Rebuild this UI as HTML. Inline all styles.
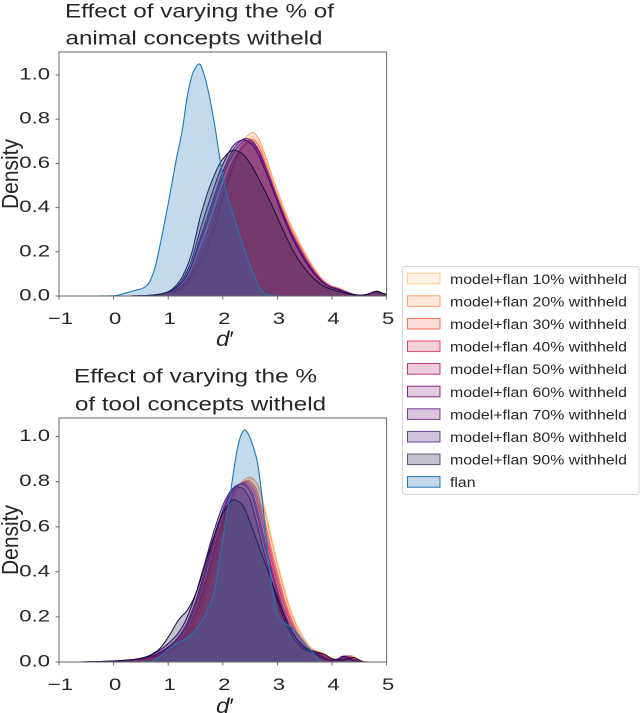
<!DOCTYPE html>
<html><head><meta charset="utf-8"><title>chart</title>
<style>html,body{margin:0;padding:0;background:#fff;overflow:hidden}svg{display:block}text{fill:#262626}</style>
</head><body>
<svg id="s" xmlns="http://www.w3.org/2000/svg" width="640" height="713" viewBox="0 0 640 713" font-family="'Liberation Sans', Arial, sans-serif">
<defs>
<clipPath id="c1"><rect x="59" y="52" width="327.6" height="244"/></clipPath>
<clipPath id="c2"><rect x="59" y="418" width="327.6" height="244"/></clipPath>
</defs>
<rect width="640" height="713" fill="#fff"/>
<g id="p1" clip-path="url(#c1)"></g>
<g id="p2" clip-path="url(#c2)"></g>

<!-- spines -->
<rect x="59" y="52" width="327.6" height="244" fill="none" stroke="#666" stroke-width="1"/>
<rect x="59" y="418" width="327.6" height="244" fill="none" stroke="#666" stroke-width="1"/>

<!-- ticks -->
<g stroke="#666" stroke-width="1">
<line x1="55.5" x2="59" y1="296" y2="296"/><line x1="55.5" x2="59" y1="251.8" y2="251.8"/><line x1="55.5" x2="59" y1="207.6" y2="207.6"/><line x1="55.5" x2="59" y1="163.4" y2="163.4"/><line x1="55.5" x2="59" y1="119.2" y2="119.2"/><line x1="55.5" x2="59" y1="75" y2="75"/>
<line x1="55.5" x2="59" y1="662" y2="662"/><line x1="55.5" x2="59" y1="616.9" y2="616.9"/><line x1="55.5" x2="59" y1="571.8" y2="571.8"/><line x1="55.5" x2="59" y1="526.8" y2="526.8"/><line x1="55.5" x2="59" y1="481.7" y2="481.7"/><line x1="55.5" x2="59" y1="436.6" y2="436.6"/>
<line x1="59" x2="59" y1="296" y2="299.5"/><line x1="113.6" x2="113.6" y1="296" y2="299.5"/><line x1="168.2" x2="168.2" y1="296" y2="299.5"/><line x1="222.8" x2="222.8" y1="296" y2="299.5"/><line x1="277.4" x2="277.4" y1="296" y2="299.5"/><line x1="332" x2="332" y1="296" y2="299.5"/><line x1="386.6" x2="386.6" y1="296" y2="299.5"/>
<line x1="59" x2="59" y1="662" y2="665.5"/><line x1="113.6" x2="113.6" y1="662" y2="665.5"/><line x1="168.2" x2="168.2" y1="662" y2="665.5"/><line x1="222.8" x2="222.8" y1="662" y2="665.5"/><line x1="277.4" x2="277.4" y1="662" y2="665.5"/><line x1="332" x2="332" y1="662" y2="665.5"/><line x1="386.6" x2="386.6" y1="662" y2="665.5"/>
</g>

<!-- y tick labels -->
<g font-size="17" text-anchor="end">
<text transform="translate(50,300.5) scale(1.3,1)">0.0</text>
<text transform="translate(50,256.3) scale(1.3,1)">0.2</text>
<text transform="translate(50,212.1) scale(1.3,1)">0.4</text>
<text transform="translate(50,167.9) scale(1.3,1)">0.6</text>
<text transform="translate(50,123.7) scale(1.3,1)">0.8</text>
<text transform="translate(50,79.5) scale(1.3,1)">1.0</text>
<text transform="translate(50,666.5) scale(1.3,1)">0.0</text>
<text transform="translate(50,621.4) scale(1.3,1)">0.2</text>
<text transform="translate(50,576.3) scale(1.3,1)">0.4</text>
<text transform="translate(50,531.3) scale(1.3,1)">0.6</text>
<text transform="translate(50,486.2) scale(1.3,1)">0.8</text>
<text transform="translate(50,441.1) scale(1.3,1)">1.0</text>
</g>
<!-- x tick labels -->
<g font-size="17" text-anchor="middle">
<text transform="translate(60.5,324) scale(1.3,1)">−1</text>
<text transform="translate(115.1,324) scale(1.3,1)">0</text>
<text transform="translate(169.7,324) scale(1.3,1)">1</text>
<text transform="translate(224.3,324) scale(1.3,1)">2</text>
<text transform="translate(278.9,324) scale(1.3,1)">3</text>
<text transform="translate(333.5,324) scale(1.3,1)">4</text>
<text transform="translate(388.1,324) scale(1.3,1)">5</text>
<text transform="translate(60.5,690) scale(1.3,1)">−1</text>
<text transform="translate(115.1,690) scale(1.3,1)">0</text>
<text transform="translate(169.7,690) scale(1.3,1)">1</text>
<text transform="translate(224.3,690) scale(1.3,1)">2</text>
<text transform="translate(278.9,690) scale(1.3,1)">3</text>
<text transform="translate(333.5,690) scale(1.3,1)">4</text>
<text transform="translate(388.1,690) scale(1.3,1)">5</text>
</g>

<!-- axis labels -->
<g font-size="21" text-anchor="middle">
<text transform="translate(18,174) scale(1.1,1) rotate(-90)">Density</text>
<text transform="translate(18,540) scale(1.1,1) rotate(-90)">Density</text>
<text transform="translate(225,346) scale(1.15,1)"><tspan font-style="italic">d</tspan>′</text>
<text transform="translate(225,713) scale(1.15,1)"><tspan font-style="italic">d</tspan>′</text>
</g>

<!-- titles -->
<g font-size="19.5">
<text x="65" y="17.5" textLength="269" lengthAdjust="spacingAndGlyphs">Effect of varying the % of</text>
<text x="65.5" y="44.5" textLength="257" lengthAdjust="spacingAndGlyphs">animal concepts witheld</text>
<text x="74" y="382.5" textLength="243" lengthAdjust="spacingAndGlyphs">Effect of varying the %</text>
<text x="75" y="410.5" textLength="251" lengthAdjust="spacingAndGlyphs">of tool concepts witheld</text>
</g>

<!-- legend -->
<rect x="402.5" y="266.5" width="236.5" height="228" rx="3" ry="3" fill="#fff" stroke="#d4d4d4" stroke-width="1"/>
<g stroke-width="1">
<rect x="407.5" y="273.2" width="32.5" height="10.6" fill="#fecf92" fill-opacity="0.25" stroke="#fecf92"/>
<rect x="407.5" y="295.8" width="32.5" height="10.6" fill="#fe9f6d" fill-opacity="0.25" stroke="#fe9f6d"/>
<rect x="407.5" y="318.4" width="32.5" height="10.6" fill="#f7705c" fill-opacity="0.25" stroke="#f7705c"/>
<rect x="407.5" y="341.0" width="32.5" height="10.6" fill="#de4968" fill-opacity="0.25" stroke="#de4968"/>
<rect x="407.5" y="363.6" width="32.5" height="10.6" fill="#b73779" fill-opacity="0.25" stroke="#b73779"/>
<rect x="407.5" y="386.2" width="32.5" height="10.6" fill="#8c2981" fill-opacity="0.25" stroke="#8c2981"/>
<rect x="407.5" y="408.8" width="32.5" height="10.6" fill="#641a80" fill-opacity="0.25" stroke="#641a80" stroke-opacity="0.85"/>
<rect x="407.5" y="431.4" width="32.5" height="10.6" fill="#3b0f70" fill-opacity="0.25" stroke="#3b0f70" stroke-opacity="0.75"/>
<rect x="407.5" y="454.0" width="32.5" height="10.6" fill="#140e36" fill-opacity="0.25" stroke="#140e36" stroke-opacity="0.65"/>
<rect x="407.5" y="476.6" width="32.5" height="10.6" fill="#1f77b4" fill-opacity="0.27" stroke="#1f77b4"/>
</g>
<g font-size="13.5">
<text x="450" y="283.8" textLength="177" lengthAdjust="spacingAndGlyphs">model+flan 10% withheld</text>
<text x="450" y="306.4" textLength="177" lengthAdjust="spacingAndGlyphs">model+flan 20% withheld</text>
<text x="450" y="329.0" textLength="177" lengthAdjust="spacingAndGlyphs">model+flan 30% withheld</text>
<text x="450" y="351.6" textLength="177" lengthAdjust="spacingAndGlyphs">model+flan 40% withheld</text>
<text x="450" y="374.2" textLength="177" lengthAdjust="spacingAndGlyphs">model+flan 50% withheld</text>
<text x="450" y="396.8" textLength="177" lengthAdjust="spacingAndGlyphs">model+flan 60% withheld</text>
<text x="450" y="419.4" textLength="177" lengthAdjust="spacingAndGlyphs">model+flan 70% withheld</text>
<text x="450" y="442.0" textLength="177" lengthAdjust="spacingAndGlyphs">model+flan 80% withheld</text>
<text x="450" y="464.6" textLength="177" lengthAdjust="spacingAndGlyphs">model+flan 90% withheld</text>
<text x="450" y="487.2" textLength="25.5" lengthAdjust="spacingAndGlyphs">flan</text>
</g>
</svg>
<script>
(function(){
var NS='http://www.w3.org/2000/svg';
function X(d){return 113.6+54.6*d;}
function Y1(v){return 296-221*v;}
function Y2(v){return 662-225.4*v;}
function mono(pts){
  var n=pts.length,xs=[],ys=[],dx=[],m=[],t=[],i;
  for(i=0;i<n;i++){xs.push(pts[i][0]);ys.push(pts[i][1]);}
  for(i=0;i<n-1;i++){dx[i]=xs[i+1]-xs[i];m[i]=(ys[i+1]-ys[i])/dx[i];}
  t[0]=m[0];
  for(i=1;i<n-1;i++){
    if(m[i-1]*m[i]<=0){t[i]=0;}
    else{var w1=2*dx[i]+dx[i-1],w2=dx[i]+2*dx[i-1];t[i]=(w1+w2)/(w1/m[i-1]+w2/m[i]);}
  }
  t[n-1]=m[n-2];
  return function(x){
    if(x<=xs[0])return ys[0];
    if(x>=xs[n-1])return ys[n-1];
    var k=0;while(x>xs[k+1])k++;
    var h=dx[k],s=(x-xs[k])/h,s2=s*s,s3=s2*s;
    return (2*s3-3*s2+1)*ys[k]+(s3-2*s2+s)*h*t[k]+(-2*s3+3*s2)*ys[k+1]+(s3-s2)*h*t[k+1];
  };
}
function add(g,Y,f,col,a,lw,d0,d1){
  var s='',d;
  for(d=d0;d<=d1+1e-9;d+=0.01){
    var v=Math.max(0,f(d));
    s+=(s?'L':'M')+X(d).toFixed(2)+','+Y(v).toFixed(2);
  }
  var p1=document.createElementNS(NS,'path');
  p1.setAttribute('d',s+'L'+X(d1).toFixed(2)+','+Y(0)+'L'+X(d0).toFixed(2)+','+Y(0)+'Z');
  p1.setAttribute('fill',col);p1.setAttribute('fill-opacity',a);p1.setAttribute('stroke','none');
  g.appendChild(p1);
  var p2=document.createElementNS(NS,'path');
  p2.setAttribute('d',s);p2.setAttribute('fill','none');p2.setAttribute('stroke',col);
  p2.setAttribute('stroke-width',lw);p2.setAttribute('stroke-linejoin','round');
  g.appendChild(p2);
}
var cols=['#fecf92','#fe9f6d','#f7705c','#de4968','#b73779','#8c2981','#641a80','#3b0f70','#140e36'];

/* ---------- top plot ---------- */
var TA=mono([[0.3,0],[0.6,0.002],[0.8,0.006],[0.95,0.012],[1.1,0.016],[1.3,0.04],[1.5,0.1],[1.7,0.2],[1.85,0.31],[2.0,0.44],[2.15,0.56],[2.3,0.66],[2.45,0.725],[2.55,0.74],[2.65,0.715],[2.8,0.62],[2.95,0.51],[3.1,0.41],[3.25,0.32],[3.4,0.245],[3.55,0.175],[3.7,0.115],[3.85,0.07],[4.0,0.045],[4.1,0.038],[4.25,0.022],[4.4,0.008],[4.55,0.003],[4.7,0.01],[4.82,0.02],[4.95,0.01],[5.1,0.003],[5.3,0]]);
var TC=mono([[0.3,0],[0.6,0.002],[0.8,0.006],[1.0,0.02],[1.2,0.065],[1.4,0.17],[1.6,0.37],[1.8,0.52],[2.0,0.62],[2.2,0.66],[2.35,0.645],[2.5,0.6],[2.7,0.51],[2.9,0.41],[3.1,0.3],[3.3,0.2],[3.5,0.125],[3.7,0.072],[3.9,0.038],[4.1,0.022],[4.3,0.01],[4.5,0.003],[4.65,0.008],[4.82,0.02],[4.95,0.01],[5.1,0.003],[5.3,0]]);
var tp=[[0,0,0.975],[0,0,1],[0.1,0,0.98],[0.2,0,0.98],[0.3,0,1.0],[0.4,-0.02,1.03],[0.5,0,1.06],[0.65,0,1.07],[1,0,1]];
var g1=document.getElementById('p1');
tp.forEach(function(p,i){
  var t=p[0],s=p[1],m=p[2];
  add(g1,Y1,function(d){return m*((1-t)*TA(d-s)+t*TC(d-s));},cols[i],0.25,1,0.3+s,5.3);
});
var TF=mono([[-0.3,0],[0,0.001],[0.2,0.012],[0.37,0.024],[0.5,0.032],[0.58,0.042],[0.65,0.06],[0.7,0.087],[0.76,0.13],[0.85,0.23],[1.01,0.43],[1.15,0.62],[1.25,0.74],[1.37,0.93],[1.47,1.02],[1.57,1.05],[1.66,1.0],[1.74,0.92],[1.86,0.76],[1.95,0.615],[2.05,0.48],[2.2,0.36],[2.38,0.22],[2.56,0.10],[2.68,0.035],[2.8,0.006],[3.0,0]]);
add(g1,Y1,TF,'#1f77b4',0.27,1.1,-0.3,3.0);

/* ---------- bottom plot ---------- */
var BA=mono([[-0.5,0],[0,0.003],[0.5,0.01],[0.8,0.022],[1.0,0.04],[1.2,0.07],[1.4,0.13],[1.6,0.24],[1.8,0.40],[2.0,0.58],[2.2,0.73],[2.35,0.8],[2.5,0.82],[2.62,0.795],[2.75,0.69],[2.9,0.53],[3.05,0.385],[3.2,0.255],[3.35,0.16],[3.5,0.095],[3.65,0.055],[3.8,0.042],[3.95,0.022],[4.1,0.008],[4.25,0.014],[4.35,0.028],[4.45,0.014],[4.6,0.002],[4.7,0]]);
var BC=mono([[-0.5,0],[0,0.004],[0.5,0.016],[0.8,0.05],[1.0,0.11],[1.2,0.19],[1.35,0.23],[1.5,0.3],[1.65,0.41],[1.8,0.53],[2.0,0.66],[2.2,0.72],[2.35,0.7],[2.5,0.62],[2.65,0.52],[2.8,0.42],[2.95,0.32],[3.1,0.22],[3.25,0.14],[3.4,0.09],[3.55,0.058],[3.7,0.045],[3.85,0.035],[4.0,0.015],[4.15,0.008],[4.3,0.015],[4.4,0.02],[4.5,0.008],[4.6,0],[4.7,0]]);
var bp=[[0,0.02,0.99],[0,0,1],[0.03,-0.03,0.99],[0.05,-0.05,0.99],[0.08,-0.07,0.99],[0.1,-0.1,0.99],[0.12,-0.12,0.99],[0.2,-0.15,0.99],[1,0,1]];
var g2=document.getElementById('p2');
bp.forEach(function(p,i){
  var t=p[0],s=p[1],m=p[2];
  add(g2,Y2,function(d){return m*((1-t)*BA(d-s)+t*BC(d-s));},cols[i],0.25,1,-0.5+s,4.7+s);
});
var BF=mono([[0.5,0],[0.7,0.003],[0.85,0.025],[1.0,0.055],[1.16,0.083],[1.3,0.1],[1.45,0.13],[1.59,0.17],[1.72,0.23],[1.83,0.30],[1.92,0.42],[1.98,0.51],[2.07,0.65],[2.14,0.75],[2.2,0.85],[2.28,0.96],[2.34,1.01],[2.4,1.03],[2.47,1.01],[2.55,0.96],[2.63,0.89],[2.7,0.77],[2.75,0.66],[2.84,0.45],[2.92,0.3],[2.99,0.216],[3.08,0.18],[3.24,0.157],[3.42,0.11],[3.55,0.07],[3.66,0.04],[3.75,0.01],[3.85,0]]);
add(g2,Y2,BF,'#1f77b4',0.27,1.1,0.5,3.85);
})();
</script>
</body></html>
